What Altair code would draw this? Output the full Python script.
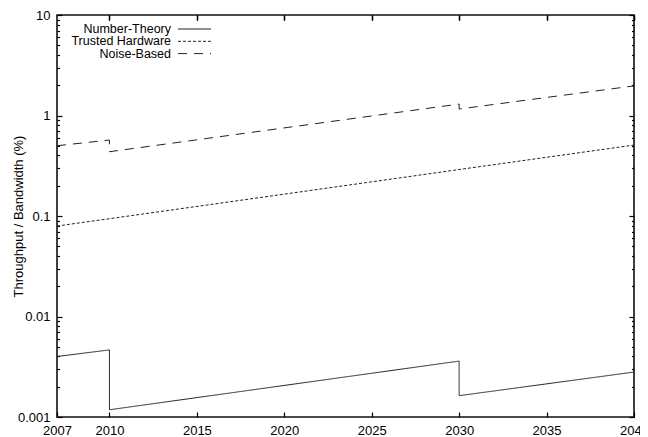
import altair as alt
import pandas as pd

series_names = ["Number-Theory", "Trusted Hardware", "Noise-Based"]

nt_years = [2007, 2010, 2010, 2030, 2030, 2040]
nt_values = [0.0040, 0.00465, 0.00118, 0.0036, 0.00163, 0.0028]

th_years = [2007, 2010, 2020, 2030, 2040]
th_values = [0.0795, 0.094, 0.165, 0.29, 0.508]

nb_years = [2007, 2010, 2010, 2030, 2030, 2040]
nb_values = [0.50, 0.57, 0.436, 1.30, 1.16, 1.97]

x_ticks = [2007, 2010, 2015, 2020, 2025, 2030, 2035, 2040]
y_major = [0.001, 0.01, 0.1, 1, 10]
y_minor = [round(m * d, 6) for d in [0.001, 0.01, 0.1, 1] for m in range(2, 10)]

dashes = [[1, 0], [3, 2], [9, 7]]

rows = []
for name, ys, vs in zip(series_names, [nt_years, th_years, nb_years], [nt_values, th_values, nb_values]):
    for i, (y, v) in enumerate(zip(ys, vs)):
        rows.append({"series": name, "year": y, "value": v, "order": i})
df = pd.DataFrame(rows)

W, H = 577, 402
FONT = "Liberation Sans"
LINE = "#222222"

x_scale = alt.Scale(domain=[2007, 2040], nice=False, zero=False)
y_scale = alt.Scale(type="log", domain=[0.001, 10], nice=False)

common = dict(domain=False, grid=False, tickColor="black", tickWidth=1.2,
              labelFont=FONT, labelFontSize=13, labelColor="black", labelFlush=False,
              labelOverlap=False)


def guide_layer(xaxis, yaxis):
    return alt.Chart(df).mark_line(opacity=0).encode(
        x=alt.X("year:Q", scale=x_scale, axis=xaxis),
        y=alt.Y("value:Q", scale=y_scale, axis=yaxis),
        detail="series:N",
    )


main = alt.Chart(df).mark_line(color=LINE, strokeWidth=1).encode(
    x=alt.X("year:Q", scale=x_scale,
            axis=alt.Axis(orient="bottom", values=x_ticks, format="d", tickSize=5, offset=-5,
                          labelPadding=7, title=None, **common)),
    y=alt.Y("value:Q", scale=y_scale,
            axis=alt.Axis(orient="left", values=y_major, format="~g", tickSize=5, offset=-5,
                          labelPadding=7, title="Throughput / Bandwidth (%)",
                          titleX=-44, titleY=H / 2, titleBaseline="middle", titleAngle=270,
                          titleFont=FONT, titleFontSize=13, titleFontWeight="normal",
                          titleColor="black", **common)),
    strokeDash=alt.StrokeDash("series:N", scale=alt.Scale(domain=series_names, range=dashes), legend=None),
    order="order:Q",
)

top_axis = alt.Axis(orient="top", values=x_ticks[1:], labels=False, tickSize=5, offset=-5, title=None, **common)

left_minor = guide_layer(
    top_axis,
    alt.Axis(orient="left", values=y_minor, labels=False, tickSize=2.5, offset=-2.5, title=None, **common),
)
right_major = guide_layer(
    top_axis,
    alt.Axis(orient="right", values=y_major, labels=False, tickSize=5, offset=-5, title=None, **common),
)
right_minor = guide_layer(
    top_axis,
    alt.Axis(orient="right", values=y_minor, labels=False, tickSize=2.5, offset=-2.5, title=None, **common),
)

legend_layers = []
for i, name in enumerate(series_names):
    ly = 14 + 12.3 * i
    ldf = pd.DataFrame({"series": [name]})
    legend_layers.append(
        alt.Chart(ldf).mark_text(align="right", baseline="middle", font=FONT, fontSize=12.5, color="black").encode(
            text="series:N", x=alt.value(114), y=alt.value(ly))
    )
    legend_layers.append(
        alt.Chart(ldf).mark_rule(color=LINE, strokeWidth=1, strokeDash=dashes[i]).encode(
            x=alt.value(121), x2=alt.value(154), y=alt.value(ly))
    )

chart = alt.layer(main, left_minor, right_major, right_minor, *legend_layers).resolve_axis(
    x="independent", y="independent"
).properties(
    width=W, height=H,
    background="white",
    autosize=alt.AutoSizeParams(type="none"),
    padding={"left": 49, "top": 7, "right": 6, "bottom": 20},
).configure_view(
    stroke="#111111", strokeWidth=1.6
)

chart.save("out.html", embed_options={"renderer": "svg", "actions": False})
